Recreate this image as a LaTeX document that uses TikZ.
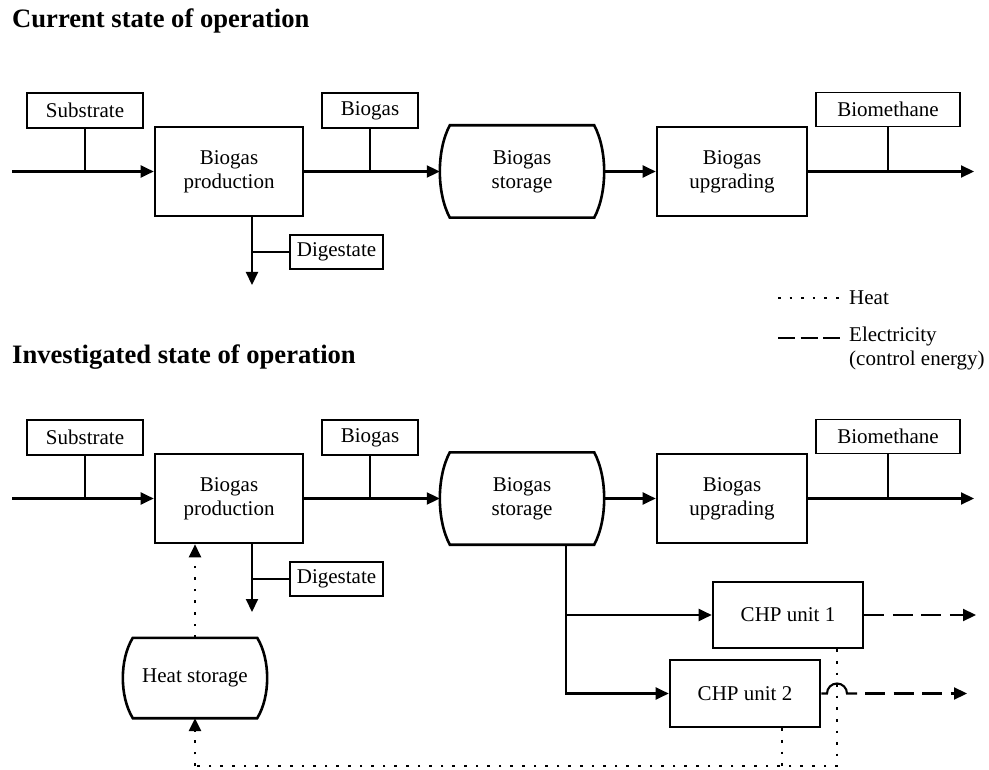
\documentclass[tikz,border=0pt]{standalone}
\usepackage{fontspec}
\setmainfont{Liberation Serif}
\usetikzlibrary{arrows.meta,calc}
\tikzset{
 every node/.style={font=\fontsize{21}{24}\selectfont},
 proc/.style={draw, line width=2.6pt, inner sep=0pt, align=center},
 lab/.style={draw, line width=1.6pt, inner sep=0pt},
 stor/.style={inner sep=0pt, align=center},
 flow/.style={line width=2.1pt},
 thin/.style={line width=1.7pt},
 tip/.style={-{Triangle[length=13pt,width=12pt]}},
 heat/.style={line width=2.6pt, dash pattern=on 2.6pt off 9pt},
 elec/.style={line width=2.2pt, dash pattern=on 20pt off 8.5pt},
 legelec/.style={line width=2.2pt, dash pattern=on 17pt off 5.5pt},
 ttl/.style={font=\fontsize{26.6}{30}\selectfont\bfseries, anchor=base west, inner sep=0pt},
}
\newcommand\storeshape[1]{%
 \draw[line width=2.6pt] ($(#1.north west)+(10,0)$) -- ($(#1.north east)+(-10,0)$)
 .. controls ($(#1.north east)!0.27!(#1.south east)+(3.3,0)$) and ($(#1.north east)!0.73!(#1.south east)+(3.3,0)$) .. ($(#1.south east)+(-10,0)$)
 -- ($(#1.south west)+(10,0)$)
 .. controls ($(#1.south west)!0.27!(#1.north west)+(-3.3,0)$) and ($(#1.south west)!0.73!(#1.north west)+(-3.3,0)$) .. cycle;}
\newcommand\mainrow[2]{%
\begin{scope}[yshift=-#2pt]
\node[lab, minimum width=116pt, minimum height=35pt] (sub#1) at (85,-110.5) {Substrate};
\node[proc, minimum width=148pt, minimum height=89pt] (prod#1) at (229,-171.5) {Biogas\\production};
\node[lab, minimum width=93pt, minimum height=34pt] (dig#1) at (336.5,-252) {Digestate};
\node[lab, minimum width=96pt, minimum height=35pt] (bg#1) at (370,-110.5) {Biogas};
\node[stor, minimum width=164pt, minimum height=92pt] (st#1) at (522,-171.5) {Biogas\\storage};
\node[proc, minimum width=150pt, minimum height=89pt] (upg#1) at (732,-171.5) {Biogas\\upgrading};
\node[lab, minimum width=144pt, minimum height=34pt] (bm#1) at (888,-109.5) {Biomethane};
\coordinate (in#1) at (12,-171.5);
\coordinate (out#1) at (974,-171.5);
\coordinate (dg#1) at (252,-285);
\end{scope}
\storeshape{st#1}
\draw[flow,tip] (in#1) -- (prod#1.west);
\draw[flow,tip] (prod#1.east) -- (st#1.west);
\draw[flow,tip] (st#1.east) -- (upg#1.west);
\draw[flow,tip] (upg#1.east) -- (out#1);
\draw[thin] (sub#1.south) -- (sub#1.south |- in#1);
\draw[thin] (bg#1.south) -- (bg#1.south |- prod#1.east);
\draw[thin] (bm#1.south) -- (bm#1.south |- out#1);
\draw[flow,tip] (prod#1.south -| dg#1) -- (dg#1);
\draw[thin] (dig#1.west) -- (dig#1.west -| dg#1);
}
\begin{document}
\begin{tikzpicture}[x=1pt,y=1pt]
\useasboundingbox (0,0) rectangle (989,-770);
\node[ttl] (t1) at (12,-28) {Current state of operation};
\node[ttl] (t2) at (12,-363) {Investigated state of operation};
\mainrow{1}{0}
\mainrow{2}{327}
% legend
\coordinate (lh0) at (778,-298);
\coordinate (lh1) at (841,-298);
\draw[heat] (lh0) -- (lh1);
\node[anchor=west, inner sep=0pt] (lheat) at (849,-298) {Heat};
\coordinate (le0) at (778,-338);
\coordinate (le1) at (841,-338);
\draw[legelec] (le0) -- (le1);
\node[anchor=west, align=left, inner sep=0pt] (lel) at (849,-348) {Electricity\\(control energy)};
% CHP units
\node[proc, minimum width=150pt, minimum height=66pt] (chp1) at (788,-615) {CHP unit 1};
\node[proc, minimum width=150pt, minimum height=67pt] (chp2) at (745,-693.5) {CHP unit 2};
\coordinate (br) at (566,-693.5);
\draw[flow,tip] (st2.south -| br) -- (br) -- (chp2.west);
\draw[flow,tip] (br |- chp1.west) -- (chp1.west);
\coordinate (e1) at (976,-615);
\draw[elec,tip] (chp1.east) -- (e1);
\coordinate (hop) at (837,-693.5);
\coordinate (e2) at (967,-693.5);
\draw[flow] (chp2.east) -- ([xshift=-10pt]hop) arc[start angle=180,end angle=0,radius=10pt] -- ([xshift=20pt]hop);
\draw[elec,tip] ([xshift=28pt]hop) -- (e2);
% heat storage
\node[stor, minimum width=144pt, minimum height=80pt] (hs) at (195,-678) {Heat storage};
\storeshape{hs}
\coordinate (h1) at (837,-766);
\coordinate (h2) at (782,-766);
\coordinate (h0) at (195,-766);
\draw[heat] (chp1.south -| h1) -- (h1) -- (h0);
\draw[heat] (chp2.south -| h2) -- (h2);
\draw[heat,tip] (h0) -- (hs.south);
\draw[heat,tip] (hs.north) -- (hs.north |- prod2.south);
\end{tikzpicture}
\end{document}
